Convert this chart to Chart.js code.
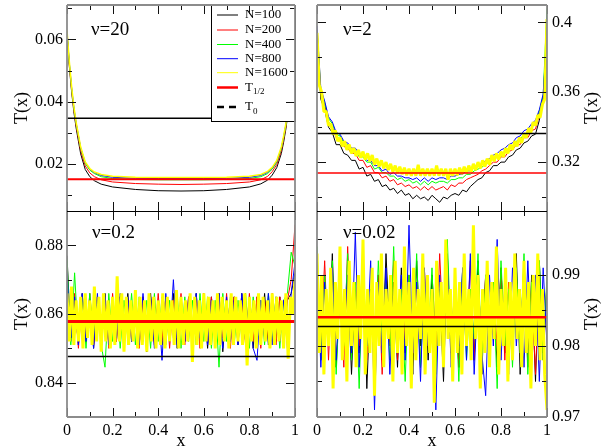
<!DOCTYPE html>
<html>
<head>
<meta charset="utf-8">
<script src="https://cdn.jsdelivr.net/npm/chart.js@4.4.1/dist/chart.umd.min.js"></script>
<style>
  html, body { margin: 0; padding: 0; background: #fff; }
  #wrap { position: relative; width: 606px; height: 447px; overflow: hidden; }
  #wrap canvas { position: absolute; }
</style>
</head>
<body>
<div id="wrap">
  <canvas id="tl" width="300" height="220" style="left:0;top:0"></canvas>
  <canvas id="tr" width="306" height="220" style="left:300px;top:0"></canvas>
  <canvas id="bl" width="300" height="247" style="left:0;top:200px"></canvas>
  <canvas id="br" width="306" height="247" style="left:300px;top:200px"></canvas>
</div>
<script>
const seriesLabels = ['N=100', 'N=200', 'N=400', 'N=800', 'N=1600'];
const seriesColors = ['#000000', '#ff0000', '#00ff00', '#0000ff', '#ffff00'];

const xTicks = [0, 0.2, 0.4, 0.6, 0.8, 1];
const xTickLabels = ['0', '0.2', '0.4', '0.6', '0.8', '1'];

// nu = 20 (smooth profiles)
const tlX = [0, 0.005, 0.01, 0.02, 0.03, 0.04, 0.05, 0.06, 0.08, 0.1, 0.12, 0.15, 0.2, 0.3, 0.4, 0.5,
  0.6, 0.7, 0.8, 0.85, 0.88, 0.9, 0.92, 0.94, 0.95, 0.96, 0.97, 0.98, 0.99, 0.995, 1];
const tlN100 = [0.0615, 0.0565, 0.0515, 0.0434, 0.0368, 0.0316, 0.0274, 0.0233, 0.0183, 0.0160, 0.0147, 0.0136, 0.0127, 0.0119, 0.0115, 0.0114,
  0.0115, 0.0119, 0.0127, 0.0137, 0.0149, 0.0165, 0.0189, 0.0234, 0.0270, 0.0313, 0.0368, 0.0434, 0.0515, 0.0565, 0.0615];
const tlN200 = [0.0620, 0.0570, 0.0520, 0.0440, 0.0375, 0.0324, 0.0283, 0.0243, 0.0194, 0.0172, 0.0160, 0.0150, 0.0143, 0.0138, 0.0136, 0.0135,
  0.0136, 0.0138, 0.0143, 0.0150, 0.0161, 0.0176, 0.0199, 0.0243, 0.0278, 0.0320, 0.0375, 0.0440, 0.0520, 0.0570, 0.0620];
const tlN400 = [0.0625, 0.0575, 0.0525, 0.0445, 0.0380, 0.0330, 0.0290, 0.0250, 0.0202, 0.0181, 0.0170, 0.0160, 0.0154, 0.0151, 0.0150, 0.0150,
  0.0150, 0.0151, 0.0154, 0.0160, 0.0170, 0.0184, 0.0206, 0.0249, 0.0284, 0.0325, 0.0380, 0.0445, 0.0525, 0.0575, 0.0625];
const tlN800 = [0.0628, 0.0578, 0.0528, 0.0448, 0.0383, 0.0333, 0.0293, 0.0253, 0.0205, 0.0184, 0.0173, 0.0164, 0.0158, 0.0155, 0.0154, 0.0154,
  0.0154, 0.0155, 0.0158, 0.0164, 0.0174, 0.0187, 0.0209, 0.0252, 0.0287, 0.0328, 0.0383, 0.0448, 0.0528, 0.0578, 0.0628];
const tlN1600 = [0.0630, 0.0580, 0.0530, 0.0450, 0.0385, 0.0335, 0.0295, 0.0255, 0.0207, 0.0186, 0.0175, 0.0167, 0.0161, 0.0158, 0.0157, 0.0157,
  0.0157, 0.0158, 0.0161, 0.0167, 0.0177, 0.0190, 0.0212, 0.0255, 0.0290, 0.0330, 0.0385, 0.0450, 0.0530, 0.0580, 0.0630];
const tlHalf = 0.0152, tlT0 = 0.0347;
const tlYTicks = [0.02, 0.04, 0.06], tlYLabels = ['0.02', '0.04', '0.06'];

// nu = 2
const trN100 = [0.390, 0.356, 0.350, 0.340, 0.337, 0.330, 0.330, 0.325, 0.324, 0.321,
  0.321, 0.316, 0.317, 0.312, 0.313, 0.309, 0.310, 0.306, 0.307, 0.304,
  0.305, 0.302, 0.304, 0.301, 0.302, 0.299, 0.301, 0.299, 0.300, 0.298,
  0.301, 0.299, 0.297, 0.300, 0.299, 0.301, 0.302, 0.301, 0.304, 0.303,
  0.306, 0.308, 0.310, 0.311, 0.314, 0.315, 0.318, 0.318, 0.320, 0.320,
  0.323, 0.324, 0.327, 0.328, 0.331, 0.332, 0.335, 0.336, 0.344, 0.355, 0.398];
const trN200 = [0.394, 0.360, 0.353, 0.343, 0.340, 0.334, 0.333, 0.329, 0.328, 0.325,
  0.325, 0.321, 0.321, 0.317, 0.318, 0.314, 0.314, 0.311, 0.312, 0.309,
  0.310, 0.307, 0.308, 0.306, 0.307, 0.305, 0.306, 0.304, 0.306, 0.304,
  0.306, 0.304, 0.305, 0.306, 0.304, 0.307, 0.306, 0.308, 0.308, 0.310,
  0.311, 0.312, 0.313, 0.315, 0.316, 0.318, 0.320, 0.320, 0.323, 0.323,
  0.326, 0.327, 0.330, 0.330, 0.334, 0.334, 0.338, 0.339, 0.347, 0.356, 0.380];
const trN400 = [0.396, 0.361, 0.354, 0.345, 0.342, 0.336, 0.335, 0.331, 0.330, 0.327,
  0.327, 0.323, 0.323, 0.320, 0.320, 0.316, 0.317, 0.314, 0.314, 0.312,
  0.312, 0.310, 0.311, 0.309, 0.310, 0.308, 0.309, 0.307, 0.309, 0.307,
  0.309, 0.308, 0.309, 0.309, 0.308, 0.310, 0.310, 0.311, 0.311, 0.313,
  0.313, 0.315, 0.316, 0.317, 0.319, 0.320, 0.322, 0.323, 0.325, 0.326,
  0.328, 0.329, 0.332, 0.333, 0.336, 0.337, 0.340, 0.342, 0.349, 0.358, 0.408];
const trN800 = [0.398, 0.362, 0.355, 0.346, 0.343, 0.337, 0.336, 0.332, 0.331, 0.328,
  0.328, 0.325, 0.324, 0.321, 0.321, 0.318, 0.318, 0.315, 0.316, 0.313,
  0.314, 0.312, 0.312, 0.311, 0.311, 0.310, 0.311, 0.309, 0.311, 0.309,
  0.311, 0.310, 0.311, 0.311, 0.310, 0.312, 0.312, 0.313, 0.313, 0.315,
  0.315, 0.317, 0.318, 0.319, 0.321, 0.322, 0.324, 0.325, 0.327, 0.328,
  0.330, 0.331, 0.334, 0.335, 0.338, 0.339, 0.342, 0.344, 0.350, 0.359, 0.395];
const trN1600 = [0.394, 0.364, 0.360, 0.349, 0.349, 0.341, 0.342, 0.336, 0.338, 0.332,
  0.334, 0.329, 0.332, 0.327, 0.330, 0.325, 0.328, 0.3235, 0.327, 0.3225,
  0.326, 0.3215, 0.325, 0.3205, 0.324, 0.3185, 0.322, 0.3175, 0.321, 0.3165,
  0.320, 0.3155, 0.319, 0.3145, 0.318, 0.3137, 0.3174, 0.3131, 0.3168, 0.3125,
  0.3162, 0.3122, 0.3162, 0.3122, 0.3185, 0.3122, 0.3162, 0.3122, 0.3162, 0.3122,
  0.3162, 0.3122, 0.318, 0.3122, 0.3162, 0.3122, 0.3162, 0.310, 0.3162, 0.3122,
  0.3162, 0.3125, 0.3168, 0.3131, 0.3174, 0.3137, 0.318, 0.3145, 0.319, 0.3155,
  0.320, 0.3165, 0.321, 0.3175, 0.322, 0.3185, 0.324, 0.3205, 0.325, 0.3215,
  0.326, 0.323, 0.328, 0.325, 0.330, 0.327, 0.332, 0.329, 0.334, 0.331,
  0.3365, 0.334, 0.3395, 0.337, 0.343, 0.341, 0.347, 0.3455, 0.353, 0.356, 0.402];
const trHalf = 0.3137, trT0 = 0.3364;
const trYTicks = [0.32, 0.36, 0.4], trYLabels = ['0.32', '0.36', '0.4'];

// nu = 0.2
const blN100 = [0.877, 0.853, 0.864, 0.851, 0.866, 0.852, 0.863, 0.850, 0.865, 0.853,
  0.866, 0.851, 0.864, 0.852, 0.865, 0.850, 0.866, 0.852, 0.863, 0.851,
  0.865, 0.849, 0.866, 0.852, 0.864, 0.851, 0.865, 0.853, 0.866, 0.850,
  0.864, 0.852, 0.865, 0.851, 0.866, 0.852, 0.864, 0.850, 0.865, 0.853,
  0.866, 0.849, 0.864, 0.852, 0.865, 0.851, 0.866, 0.852, 0.864, 0.850,
  0.865, 0.853, 0.866, 0.851, 0.864, 0.852, 0.865, 0.851, 0.864, 0.866, 0.872];
const blN200 = [0.869, 0.852, 0.866, 0.850, 0.864, 0.853, 0.866, 0.851, 0.865, 0.852,
  0.864, 0.850, 0.866, 0.852, 0.865, 0.851, 0.864, 0.853, 0.866, 0.850,
  0.865, 0.852, 0.864, 0.851, 0.866, 0.852, 0.865, 0.850, 0.864, 0.853,
  0.866, 0.851, 0.865, 0.852, 0.864, 0.850, 0.866, 0.852, 0.865, 0.851,
  0.864, 0.853, 0.866, 0.850, 0.865, 0.852, 0.864, 0.851, 0.866, 0.852,
  0.865, 0.850, 0.864, 0.853, 0.866, 0.851, 0.865, 0.852, 0.864, 0.870, 0.886];
const blN400 = [0.876, 0.851, 0.872, 0.852, 0.865, 0.850, 0.866, 0.853, 0.864, 0.851,
  0.8445, 0.866, 0.852, 0.865, 0.850, 0.864, 0.853, 0.866, 0.851, 0.865,
  0.852, 0.864, 0.850, 0.866, 0.852, 0.865, 0.851, 0.864, 0.853, 0.866,
  0.850, 0.865, 0.852, 0.864, 0.851, 0.866, 0.852, 0.865, 0.850, 0.864,
  0.8445, 0.866, 0.852, 0.865, 0.851, 0.864, 0.853, 0.866, 0.850, 0.865,
  0.852, 0.864, 0.851, 0.866, 0.852, 0.865, 0.850, 0.864, 0.866, 0.878, 0.874];
const blN800 = [0.872, 0.853, 0.865, 0.851, 0.866, 0.852, 0.864, 0.850, 0.866, 0.852,
  0.865, 0.851, 0.864, 0.853, 0.866, 0.850, 0.865, 0.852, 0.864, 0.851,
  0.866, 0.852, 0.865, 0.850, 0.864, 0.8465, 0.866, 0.852, 0.870, 0.851,
  0.865, 0.852, 0.864, 0.850, 0.866, 0.853, 0.865, 0.851, 0.864, 0.852,
  0.866, 0.850, 0.865, 0.852, 0.864, 0.851, 0.866, 0.852, 0.865, 0.850,
  0.8465, 0.864, 0.853, 0.866, 0.851, 0.865, 0.852, 0.864, 0.850, 0.866, 0.875];
const blN1600 = [0.866, 0.852, 0.868, 0.851, 0.864, 0.852, 0.865, 0.850, 0.866, 0.853,
  0.864, 0.851, 0.868, 0.852, 0.865, 0.849, 0.866, 0.852, 0.864, 0.850,
  0.865, 0.851, 0.871, 0.852, 0.866, 0.849, 0.865, 0.851, 0.864, 0.852,
  0.867, 0.850, 0.865, 0.851, 0.864, 0.849, 0.866, 0.852, 0.865, 0.850,
  0.864, 0.851, 0.866, 0.850, 0.865, 0.852, 0.864, 0.851, 0.867, 0.850,
  0.865, 0.851, 0.864, 0.852, 0.866, 0.846, 0.865, 0.851, 0.864, 0.850,
  0.866, 0.852, 0.865, 0.851, 0.864, 0.850, 0.866, 0.851, 0.865, 0.852,
  0.864, 0.850, 0.866, 0.851, 0.865, 0.852, 0.864, 0.851, 0.866, 0.845,
  0.865, 0.852, 0.864, 0.850, 0.866, 0.851, 0.865, 0.852, 0.864, 0.850,
  0.866, 0.851, 0.865, 0.852, 0.864, 0.850, 0.866, 0.847, 0.865, 0.860, 0.870];
const blHalf = 0.8578, blT0 = 0.8476;
const blYTicks = [0.84, 0.86, 0.88], blYLabels = ['0.84', '0.86', '0.88'];

// nu = 0.02
const brN100 = [0.991, 0.978, 0.989, 0.980, 0.993, 0.977, 0.988, 0.981, 0.990, 0.976,
  0.989, 0.979, 0.992, 0.974, 0.988, 0.980, 0.990, 0.978, 0.993, 0.981,
  0.989, 0.977, 0.991, 0.979, 0.988, 0.976, 0.992, 0.980, 0.989, 0.978,
  0.990, 0.981, 0.988, 0.975, 0.993, 0.979, 0.989, 0.977, 0.991, 0.980,
  0.988, 0.978, 0.992, 0.976, 0.990, 0.981, 0.989, 0.977, 0.991, 0.979,
  0.988, 0.980, 0.993, 0.976, 0.989, 0.978, 0.990, 0.975, 0.992, 0.979, 0.989];
const brN200 = [0.989, 0.980, 0.992, 0.978, 0.990, 0.981, 0.988, 0.977, 0.994, 0.979,
  0.989, 0.980, 0.991, 0.978, 0.988, 0.981, 0.990, 0.976, 0.989, 0.980,
  0.992, 0.978, 0.988, 0.981, 0.990, 0.979, 0.989, 0.977, 0.991, 0.980,
  0.988, 0.978, 0.993, 0.981, 0.989, 0.979, 0.990, 0.977, 0.988, 0.980,
  0.992, 0.978, 0.989, 0.981, 0.990, 0.979, 0.988, 0.980, 0.991, 0.978,
  0.989, 0.981, 0.990, 0.979, 0.992, 0.977, 0.988, 0.976, 0.990, 0.978, 0.989];
const brN400 = [0.994, 0.978, 0.990, 0.981, 0.992, 0.976, 0.988, 0.980, 0.993, 0.978,
  0.989, 0.974, 0.991, 0.980, 0.988, 0.977, 0.992, 0.981, 0.989, 0.978,
  0.994, 0.979, 0.988, 0.975, 0.990, 0.980, 0.993, 0.977, 0.989, 0.981,
  0.991, 0.976, 0.988, 0.979, 0.995, 0.980, 0.989, 0.975, 0.991, 0.978,
  0.988, 0.981, 0.993, 0.977, 0.990, 0.979, 0.989, 0.974, 0.992, 0.980,
  0.988, 0.977, 0.991, 0.979, 0.993, 0.976, 0.989, 0.980, 0.992, 0.978, 0.990];
const brN800 = [0.992, 0.977, 0.989, 0.980, 0.991, 0.978, 0.988, 0.981, 0.990, 0.979,
  0.996, 0.977, 0.989, 0.980, 0.992, 0.971, 0.989, 0.979, 0.991, 0.976,
  0.988, 0.981, 0.990, 0.978, 0.997, 0.979, 0.989, 0.975, 0.991, 0.980,
  0.988, 0.971, 0.990, 0.979, 0.992, 0.977, 0.989, 0.980, 0.991, 0.978,
  0.993, 0.976, 0.988, 0.979, 0.973, 0.990, 0.980, 0.995, 0.978, 0.989,
  0.976, 0.991, 0.980, 0.988, 0.977, 0.992, 0.979, 0.990, 0.975, 0.991, 0.980];
const brN1600 = [0.993, 0.979, 0.990, 0.976, 0.988, 0.980, 0.991, 0.974, 0.989, 0.981,
  0.994, 0.978, 0.988, 0.975, 0.992, 0.980, 0.989, 0.977, 0.990, 0.981,
  0.995, 0.976, 0.988, 0.979, 0.991, 0.973, 0.989, 0.980, 0.993, 0.977,
  0.988, 0.981, 0.990, 0.975, 0.992, 0.979, 0.988, 0.976, 0.994, 0.980,
  0.989, 0.974, 0.991, 0.978, 0.988, 0.981, 0.993, 0.976, 0.990, 0.979,
  0.988, 0.972, 0.992, 0.980, 0.989, 0.977, 0.995, 0.981, 0.988, 0.975,
  0.991, 0.979, 0.989, 0.976, 0.993, 0.980, 0.988, 0.978, 0.997, 0.981,
  0.990, 0.974, 0.988, 0.979, 0.992, 0.977, 0.989, 0.981, 0.994, 0.976,
  0.988, 0.980, 0.991, 0.975, 0.989, 0.978, 0.993, 0.981, 0.988, 0.977,
  0.992, 0.979, 0.989, 0.974, 0.990, 0.980, 0.993, 0.978, 0.988, 0.976, 0.971];
const brHalf = 0.98405, brT0 = 0.98273;
const brYTicks = [0.97, 0.98, 0.99], brYLabels = ['0.97', '0.98', '0.99'];

const serif = '"Liberation Serif", "Times New Roman", serif';

// sample positions along x for evenly spaced runs
function evenX(n) {
  return Array.from({ length: n }, (_, i) => i / (n - 1));
}

function withMinor(major, lo, hi) {
  const step = major[1] - major[0];
  const out = major.map(v => [v, 9]);
  [major[0] - step / 2, ...major.map(v => v + step / 2)].forEach(v => {
    if (v > lo + 1e-9 && v < hi - 1e-9) out.push([v, 5]);
  });
  return out;
}

function drawSubText(ctx, text, x, y, size) {
  // "T_1/2" -> T with a subscript
  const [main, sub] = text.split('_');
  ctx.font = size + 'px ' + serif;
  ctx.fillText(main, x, y);
  if (sub) {
    const w = ctx.measureText(main).width;
    ctx.font = Math.round(size * 0.7) + 'px ' + serif;
    ctx.fillText(sub, x + w, y + size * 0.35);
  }
}

function drawLegend(chart) {
  const { ctx, chartArea: a } = chart;
  const w = 84, h = 116;
  const x0 = a.right - w, y0 = a.top;
  const rows = [10, 25, 39.5, 53.7, 67.7, 82.5, 102];
  ctx.save();
  ctx.fillStyle = '#fff';
  ctx.fillRect(x0, y0, w, h);
  ctx.strokeStyle = '#000';
  ctx.lineWidth = 1;
  ctx.strokeRect(x0 + 0.5, y0 + 0.5, w, h);
  chart.data.datasets.forEach((ds, i) => {
    const y = y0 + rows[i];
    ctx.strokeStyle = ds.borderColor;
    ctx.lineWidth = i < 5 ? 1 : 2.5;
    ctx.setLineDash(ds.legendDash || []);
    ctx.beginPath();
    ctx.moveTo(x0 + 6, y);
    ctx.lineTo(x0 + 27, y);
    ctx.stroke();
    ctx.setLineDash([]);
    ctx.fillStyle = '#000';
    ctx.textBaseline = 'middle';
    ctx.textAlign = 'left';
    drawSubText(ctx, ds.label, x0 + 34, y, 13);
  });
  ctx.restore();
}

function makePanelPlugin(p) {
  return {
    id: 'panel',
    afterDatasetsDraw(chart) {
      if (p.legend) drawLegend(chart);
    },
    afterDraw(chart) {
      const { ctx, chartArea: a } = chart;
      const xs = chart.scales.x, ys = chart.scales.y;
      ctx.save();
      // inward tick marks on all four sides
      ctx.strokeStyle = '#111';
      ctx.lineWidth = 1;
      ctx.beginPath();
      withMinor(xTicks, 0, 1).forEach(([v, len]) => {
        const px = Math.round(xs.getPixelForValue(v)) + 0.5;
        ctx.moveTo(px, a.bottom); ctx.lineTo(px, a.bottom - len);
        ctx.moveTo(px, a.top); ctx.lineTo(px, a.top + len);
      });
      withMinor(p.yMajor, ys.min, ys.max).forEach(([v, len]) => {
        const py = Math.round(ys.getPixelForValue(v)) + 0.5;
        ctx.moveTo(a.left, py); ctx.lineTo(a.left + len, py);
        ctx.moveTo(a.right, py); ctx.lineTo(a.right - len, py);
      });
      ctx.stroke();

      // frame: grey outer edges, black shared middle edge
      ctx.strokeStyle = '#8c8c8c';
      ctx.lineWidth = 1.8;
      const outerY = p.row === 'top' ? a.top : a.bottom;
      const midY = p.row === 'top' ? a.bottom : a.top;
      ctx.beginPath();
      ctx.moveTo(a.left, a.top); ctx.lineTo(a.left, a.bottom);
      ctx.moveTo(a.right, a.top); ctx.lineTo(a.right, a.bottom);
      ctx.moveTo(a.left, outerY); ctx.lineTo(a.right, outerY);
      ctx.stroke();
      ctx.strokeStyle = '#000';
      ctx.lineWidth = 1;
      ctx.beginPath();
      ctx.moveTo(a.left, Math.round(midY) + 0.5); ctx.lineTo(a.right, Math.round(midY) + 0.5);
      ctx.stroke();

      // panel label
      ctx.fillStyle = '#000';
      ctx.textAlign = 'left';
      ctx.textBaseline = 'alphabetic';
      ctx.font = '19px ' + serif;
      ctx.fillText(p.label, a.left + p.labelDx, a.top + p.labelDy);

      // axis titles
      ctx.font = '18px ' + serif;
      ctx.textAlign = 'center';
      ctx.textBaseline = 'middle';
      const tx = p.yTitleSide === 'left' ? a.left - 45 : a.right + 45;
      ctx.save();
      ctx.translate(tx, (a.top + a.bottom) / 2);
      ctx.rotate(-Math.PI / 2);
      ctx.fillText('T(x)', 0, 0);
      ctx.restore();
      if (p.showX) {
        ctx.textBaseline = 'alphabetic';
        ctx.fillText('x', (a.left + a.right) / 2, chart.height - 1);
      }
      ctx.restore();
    }
  };
}

function makePanel(id, p) {
  const datasets = seriesLabels.map((lab, i) => ({
    label: lab,
    data: p.series[i].map((y, j) => ({ x: p.xs[i][j], y })),
    borderColor: seriesColors[i],
    borderWidth: i === 4 ? p.topWidth : 1,
    order: 6 - i
  }));
  datasets.push({
    label: 'T_1/2',
    data: [{ x: 0, y: p.half }, { x: 1, y: p.half }],
    borderColor: '#ff0000',
    borderWidth: p.halfWidth,
    order: 1
  });
  datasets.push({
    label: 'T_0',
    data: [{ x: 0, y: p.t0 }, { x: 1, y: p.t0 }],
    borderColor: '#000000',
    borderWidth: 1.5,
    legendDash: [7, 5],
    order: 0
  });

  new Chart(document.getElementById(id), {
    type: 'line',
    data: { datasets },
    options: {
      responsive: false,
      animation: false,
      events: [],
      layout: { padding: p.pad },
      elements: { point: { radius: 0 }, line: { tension: 0, borderJoinStyle: 'bevel' } },
      plugins: { legend: { display: false }, tooltip: { enabled: false } },
      scales: {
        x: {
          type: 'linear',
          min: 0,
          max: 1,
          display: p.showX,
          afterBuildTicks: axis => { axis.ticks = xTicks.map(v => ({ value: v })); },
          afterFit: s => { s.height = p.showX ? 30 : 0; s.paddingLeft = 0; s.paddingRight = 0; },
          ticks: {
            autoSkip: false, maxRotation: 0, padding: 4, color: '#000',
            font: { family: serif, size: 16 },
            callback: (v, i) => xTickLabels[i]
          },
          grid: { display: false, drawTicks: false },
          border: { display: false }
        },
        y: {
          type: 'linear',
          position: p.yTitleSide,
          min: p.yRange[0],
          max: p.yRange[1],
          afterBuildTicks: axis => { axis.ticks = p.yMajor.map(v => ({ value: v })); },
          afterFit: s => { s.width = p.yWidth; s.paddingTop = 0; s.paddingBottom = 0; },
          ticks: {
            autoSkip: false, padding: p.yTitleSide === 'left' ? 4 : 5, color: '#000',
            font: { family: serif, size: 16 },
            callback: (v, i) => p.yLabels[i]
          },
          grid: { display: false, drawTicks: false },
          border: { display: false }
        }
      }
    },
    plugins: [makePanelPlugin(p)]
  });
}

const tlSeries = [tlN100, tlN200, tlN400, tlN800, tlN1600];
makePanel('tl', {
  series: tlSeries, xs: tlSeries.map(() => tlX),
  half: tlHalf, t0: tlT0, halfWidth: 2, topWidth: 1.5,
  yRange: [0.005, 0.071], yMajor: tlYTicks, yLabels: tlYLabels,
  yTitleSide: 'left', yWidth: 67, showX: false, row: 'top', legend: true,
  pad: { top: 5, right: 5, bottom: 9, left: 0 },
  label: '\u03bd=20', labelDx: 24, labelDy: 30
});

const trSeries = [trN100, trN200, trN400, trN800, trN1600];
makePanel('tr', {
  series: trSeries, xs: trSeries.map(s => evenX(s.length)),
  half: trHalf, t0: trT0, halfWidth: 1.5, topWidth: 3,
  yRange: [0.292, 0.41], yMajor: trYTicks, yLabels: trYLabels,
  yTitleSide: 'right', yWidth: 59, showX: false, row: 'top', legend: false,
  pad: { top: 5, right: 0, bottom: 9, left: 17 },
  label: '\u03bd=2', labelDx: 26, labelDy: 30
});

const blSeries = [blN100, blN200, blN400, blN800, blN1600];
makePanel('bl', {
  series: blSeries, xs: blSeries.map(s => evenX(s.length)),
  half: blHalf, t0: blT0, halfWidth: 3, topWidth: 3,
  yRange: [0.83, 0.89], yMajor: blYTicks, yLabels: blYLabels,
  yTitleSide: 'left', yWidth: 67, showX: true, row: 'bottom', legend: false,
  pad: { top: 11, right: 5, bottom: 0, left: 0 },
  label: '\u03bd=0.2', labelDx: 25, labelDy: 27
});

const brSeries = [brN100, brN200, brN400, brN800, brN1600];
makePanel('br', {
  series: brSeries, xs: brSeries.map(s => evenX(s.length)),
  half: brHalf, t0: brT0, halfWidth: 2.5, topWidth: 3,
  yRange: [0.97, 0.999], yMajor: brYTicks, yLabels: brYLabels,
  yTitleSide: 'right', yWidth: 59, showX: true, row: 'bottom', legend: false,
  pad: { top: 11, right: 0, bottom: 0, left: 17 },
  label: '\u03bd=0.02', labelDx: 26, labelDy: 27
});
</script>
</body>
</html>
